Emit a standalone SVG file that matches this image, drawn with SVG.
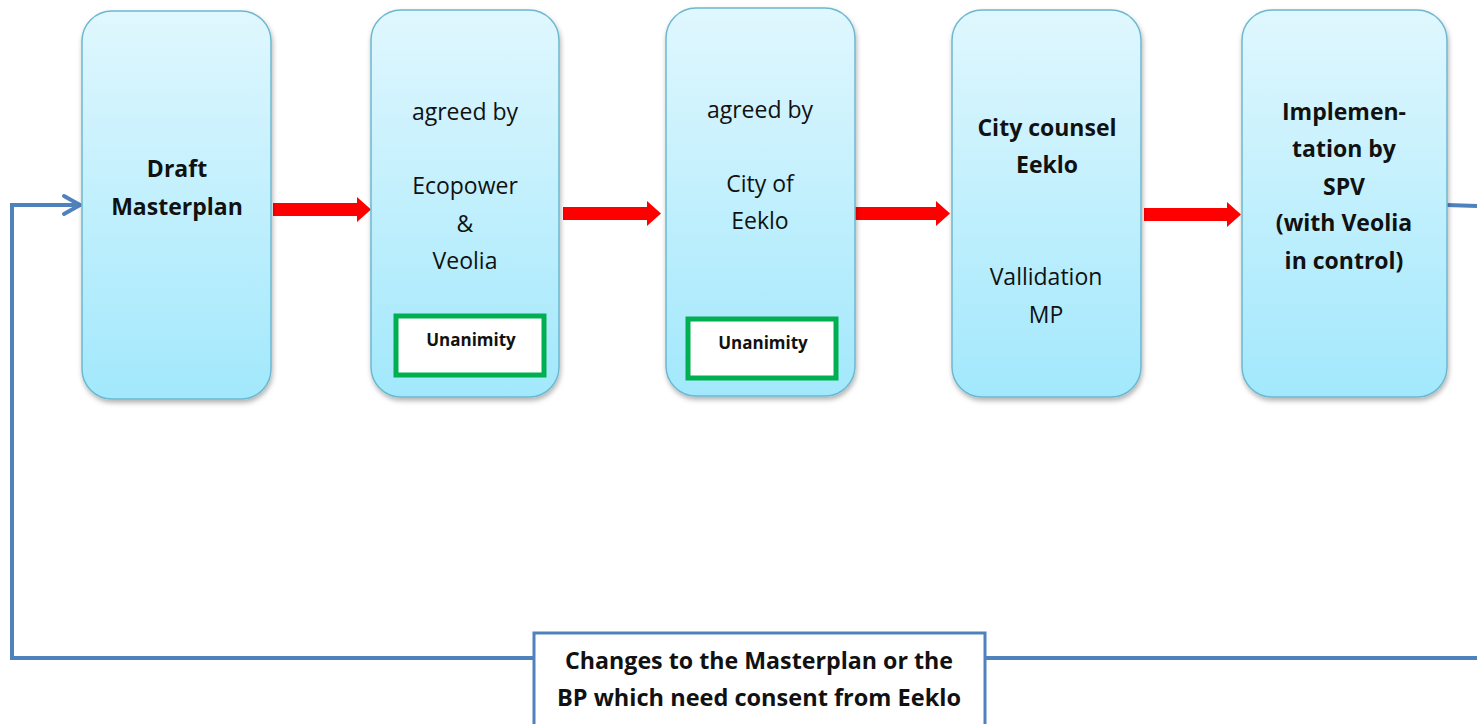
<svg xmlns="http://www.w3.org/2000/svg" width="1477" height="724" viewBox="0 0 1477 724">
<style>
.box{fill:url(#g);stroke:#6cb8cf;stroke-width:1.5;filter:url(#sh)}
.t{font-family:"Open Sans","Liberation Sans",sans-serif;font-size:23px;fill:#111;text-anchor:middle}
.b{font-weight:bold}
.un{fill:#fff;stroke:#00b050;stroke-width:5}
.ut{font-family:"Open Sans","Liberation Sans",sans-serif;font-size:17px;font-weight:bold;fill:#111;text-anchor:middle}
.blue{fill:none;stroke:#4f81bd;stroke-width:4}
.red{fill:#ff0000}
</style>
<defs>
<linearGradient id="g" x1="0" y1="0" x2="0" y2="1">
<stop offset="0" stop-color="#e0f7fe"/>
<stop offset="1" stop-color="#a2e8fc"/>
</linearGradient>
<filter id="sh" x="-10%" y="-5%" width="120%" height="115%">
<feDropShadow dx="1" dy="3" stdDeviation="2.5" flood-color="#000" flood-opacity="0.3"/>
</filter>
</defs>
<g id="connectors">
<polygon class="red" points="273,203 357,203 357,197 371,209.5 357,222 357,216 273,216"/>
<polygon class="red" points="563,207 647,207 647,201 661,213.5 647,226 647,220 563,220"/>
<polygon class="red" points="854,207 936,207 936,201 950,213.5 936,226 936,220 854,220"/>
<polygon class="red" points="1144,208 1227,208 1227,202 1241,214.5 1227,227 1227,221 1144,221"/>
<polyline class="blue" points="1447,205 1477,206"/>
<polyline class="blue" points="1477,658 12,658 12,205 80,205"/>
<polyline class="blue" points="64,196 80,205 64,214" stroke-linecap="round" stroke-linejoin="round"/>
</g>
<g id="n1">
<rect class="box" x="82" y="11" width="189" height="388" rx="30"/>
<text class="t b" x="177" y="177">Draft</text>
<text class="t b" x="177" y="215">Masterplan</text>
</g>
<g id="n2">
<rect class="box" x="371" y="10" width="188" height="387" rx="30"/>
<text class="t" x="465" y="120">agreed by</text>
<text class="t" x="465" y="194">Ecopower</text>
<text class="t" x="465" y="232">&amp;</text>
<text class="t" x="465" y="269">Veolia</text>
<rect class="un" x="396" y="316" width="148" height="59"/>
<text class="ut" x="471" y="346">Unanimity</text>
</g>
<g id="n3">
<rect class="box" x="666" y="8" width="189" height="388" rx="30"/>
<text class="t" x="760" y="118">agreed by</text>
<text class="t" x="760" y="192">City of</text>
<text class="t" x="760" y="229">Eeklo</text>
<rect class="un" x="688" y="319" width="148" height="59"/>
<text class="ut" x="763" y="349">Unanimity</text>
</g>
<g id="n4">
<rect class="box" x="952" y="10" width="189" height="387" rx="30"/>
<text class="t b" x="1047" y="136">City counsel</text>
<text class="t b" x="1047" y="173">Eeklo</text>
<text class="t" x="1046" y="285">Vallidation</text>
<text class="t" x="1046" y="323">MP</text>
</g>
<g id="n5">
<rect class="box" x="1242" y="10" width="205" height="387" rx="30"/>
<text class="t b" x="1344" y="120">Implemen-</text>
<text class="t b" x="1344" y="157">tation by</text>
<text class="t b" x="1344" y="195">SPV</text>
<text class="t b" x="1344" y="231">(with Veolia</text>
<text class="t b" x="1344" y="269">in control)</text>
</g>
<g id="n6">
<rect x="534" y="633" width="451" height="100" fill="#fff" stroke="#4f81bd" stroke-width="3"/>
<text class="t b" x="759" y="669" textLength="388" lengthAdjust="spacingAndGlyphs">Changes to the Masterplan or the</text>
<text class="t b" x="759" y="706" textLength="404" lengthAdjust="spacingAndGlyphs">BP which need consent from Eeklo</text>
</g>
</svg>
